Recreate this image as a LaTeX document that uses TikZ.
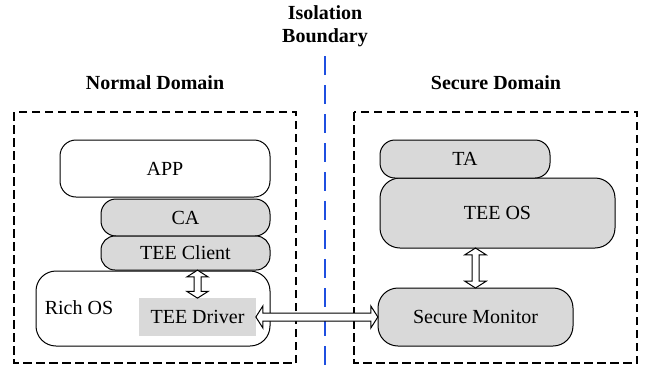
\documentclass[tikz,border=0pt]{standalone}
\usepackage{fontspec}
\setmainfont{Liberation Serif}
\usetikzlibrary{shapes.arrows,calc}
\definecolor{boxgray}{HTML}{D9D9D9}
\definecolor{bndblue}{HTML}{1F4FE0}
\tikzset{
  txt/.style={font=\fontsize{20}{24}\selectfont},
  headline/.style={font=\bfseries\fontsize{20}{23}\selectfont, align=center, inner sep=0pt},
  layer/.style={draw, line width=1pt, rounded corners=#1, inner sep=0pt, txt},
  white layer/.style={layer=#1, fill=white},
  gray layer/.style={layer=#1, fill=boxgray},
  domainframe/.style={draw, line width=1.1pt, dash pattern=on 8.5pt off 4.5pt},
  isoline/.style={draw=bndblue, line width=2.6pt, dash pattern=on 19pt off 10pt},
  dualarrow/.style={shape=double arrow, draw, fill=white, line width=1pt,
    double arrow tip angle=115, inner sep=0pt},
}
\begin{document}
\begin{tikzpicture}[x=1pt, y=-1pt]
  \useasboundingbox (0,0) rectangle (649,368);

  % domain frames and the isolation boundary
  \path[domainframe] (14,112) rectangle (296,363);
  \path[domainframe] (354,112) rectangle (637,363);
  \draw[isoline] (325,56) coordinate (btop) -- (325,368) coordinate (bbot);

  % titles
  \node[headline] (iso) at (325,26) {Isolation\\Boundary};
  \node[headline, anchor=base] (normal) at (155,89) {Normal Domain};
  \node[headline, anchor=base] (secure) at (496,89) {Secure Domain};

  % normal-domain stack
  \node[white layer=16pt, minimum width=210pt, minimum height=57pt] (app) at (165,168.5) {APP};
  \node[white layer=20pt, minimum width=234pt, minimum height=75pt] (rich) at (153,308.5) {};
  \node[gray layer=15pt, minimum width=169pt, minimum height=37pt] (ca) at (185.5,217.5) {CA};
  \node[gray layer=14pt, minimum width=169pt, minimum height=34pt] (client) at (185.5,253) {TEE Client};
  \node[txt, inner sep=0pt] (richlbl) at (79,308) {Rich OS};
  \node[txt, fill=boxgray, inner sep=0pt, minimum width=117pt, minimum height=38pt] (drv) at (197.5,317) {TEE Driver};

  % secure-domain stack
  \node[gray layer=20pt, minimum width=235pt, minimum height=70pt] (teeos) at (497.5,213) {TEE OS};
  \node[gray layer=15pt, minimum width=170pt, minimum height=38pt] (ta) at (465,159) {TA};
  \node[gray layer=20pt, minimum width=195pt, minimum height=58pt] (mon) at (475.5,317) {Secure Monitor};

  % two-way links
  \node[dualarrow, rotate=90, inner ysep=3pt, minimum width=12pt,
        minimum height=28pt] (a1) at ($(drv.north)!0.5!(drv.north |- client.south)$) {};
  \node[dualarrow, rotate=90, inner ysep=3pt, minimum width=12pt,
        minimum height=40pt] (a2) at ($(mon.north)!0.5!(mon.north |- teeos.south)$) {};
  \node[dualarrow, inner ysep=3.5pt, minimum width=16pt,
        minimum height=122pt] (a3) at ($(drv.east)!0.5!(mon.west)$) {};
\end{tikzpicture}
\end{document}
